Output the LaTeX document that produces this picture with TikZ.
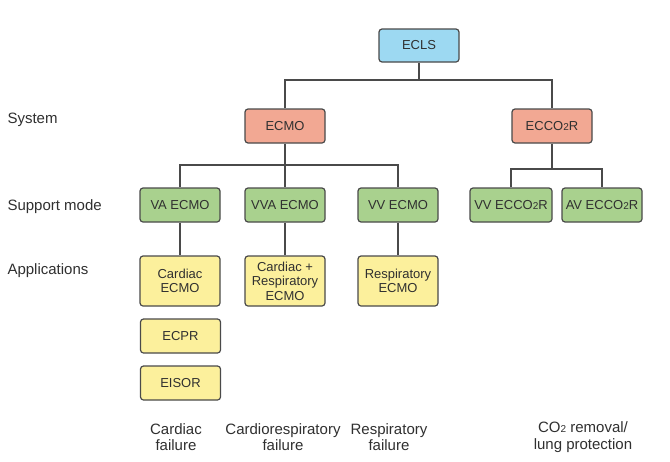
\documentclass[tikz,border=0pt]{standalone}
\usepackage{fontspec}
\setmainfont{Liberation Sans}
\definecolor{txt}{HTML}{303030}
\definecolor{edge}{HTML}{4A4A4A}
\definecolor{cblue}{HTML}{9DD9F2}
\definecolor{csalmon}{HTML}{F2A893}
\definecolor{cgreen}{HTML}{A9D18E}
\definecolor{cyellow}{HTML}{FCF09C}
\newcommand{\two}{{\fontsize{10}{10}\selectfont 2}}
\begin{document}
\begin{tikzpicture}[x=1pt,y=-1pt,
  box/.style={draw=edge, line width=1.2pt, rounded corners=3pt, align=center,
    inner sep=0pt, text=txt, font=\fontsize{13}{14.5}\selectfont},
  topbox/.style={box, fill=cblue, minimum width=80pt, minimum height=33pt},
  sysbox/.style={box, fill=csalmon, minimum width=80pt, minimum height=34pt},
  modebox/.style={box, fill=cgreen, minimum height=34pt},
  appbox/.style={box, fill=cyellow, minimum width=80pt},
  rowlabel/.style={anchor=west, text=txt, font=\fontsize{15}{17}\selectfont},
  footlabel/.style={align=center, text=txt, font=\fontsize{15}{16.5}\selectfont},
  link/.style={draw=edge, line width=1.8pt}]
\useasboundingbox (0,0) rectangle (670,461);
\fill[white] (0,0) rectangle (670,461);

% nodes
\node[topbox] (ecls) at (419,45.5) {ECLS};
\node[sysbox] (ecmo) at (285,126) {ECMO};
\node[sysbox] (eccor) at (552,126) {ECCO\two R};

\node[modebox, minimum width=80pt] (va) at (180,205) {VA ECMO};
\node[modebox, minimum width=80pt] (vva) at (285,205) {VVA ECMO};
\node[modebox, minimum width=80pt] (vv) at (398,205) {VV ECMO};
\node[modebox, minimum width=82pt] (vvr) at (511,205) {VV ECCO\two R};
\node[modebox, minimum width=80pt] (avr) at (602,205) {AV ECCO\two R};

\node[appbox, minimum height=50pt] (cardiac) at (180,281) {Cardiac\\ECMO};
\node[appbox, minimum height=50pt] (cardresp) at (285,281) {Cardiac +\\Respiratory\\ECMO};
\node[appbox, minimum height=50pt] (resp) at (398,281) {Respiratory\\ECMO};
\node[appbox, minimum height=34pt] (ecpr) at (180.5,336) {ECPR};
\node[appbox, minimum height=34pt] (eisor) at (180.5,383) {EISOR};

% row labels
\node[rowlabel] (lsys) at (4,120) {System};
\node[rowlabel] (lmode) at (4,207) {Support mode};
\node[rowlabel] (lapp) at (4,271) {Applications};

% foot labels
\node[footlabel] (f1) at (176,437) {Cardiac\\failure};
\node[footlabel] (f2) at (283,437) {Cardiorespiratory\\failure};
\node[footlabel] (f3) at (389,437) {Respiratory\\failure};
\node[footlabel] (f4) at (583,437) {CO\two\ removal/\\lung protection};

% connectors
\coordinate (j0) at (419,80);
\draw[link] (ecls.south) -- (j0);
\draw[link] (ecmo.north) |- (j0) -| (eccor.north);

\coordinate (j1) at (285,165);
\draw[link] (ecmo.south) -- (j1);
\draw[link] (va.north) |- (j1) -| (vv.north);
\draw[link] (j1) -- (vva.north);

\coordinate (j2) at (552,169);
\draw[link] (eccor.south) -- (j2);
\draw[link] (vvr.north) |- (j2) -| (avr.north);

\draw[link] (va.south) -- (cardiac.north);
\draw[link] (vva.south) -- (cardresp.north);
\draw[link] (vv.south) -- (resp.north);
\end{tikzpicture}
\end{document}
